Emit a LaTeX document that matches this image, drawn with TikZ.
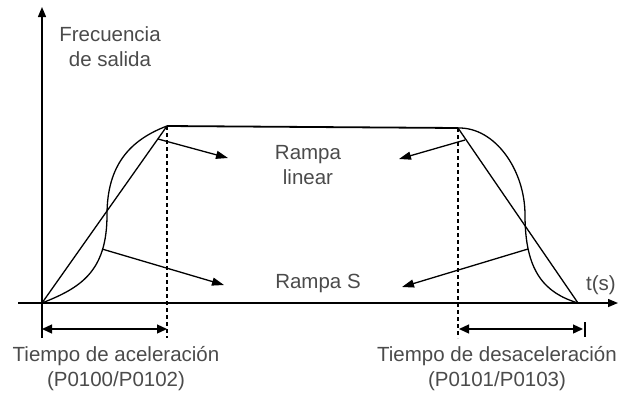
\documentclass[tikz,border=0pt]{standalone}
\usepackage{fontspec}
\setmainfont{Liberation Sans}
\usetikzlibrary{arrows.meta}
\definecolor{txt}{RGB}{75,75,75}
\tikzset{
  lbl/.style={text=txt,font=\fontsize{20.5}{24}\selectfont,inner sep=0pt,align=center},
  curve/.style={line width=1.3pt},
  axis/.style={line width=1.4pt,-{Triangle[length=10pt,width=8pt]}},
  ptr/.style={line width=1.3pt,-{Triangle[length=12pt,width=8pt]}},
  dim/.style={line width=1.3pt,{Triangle[length=10pt,width=9pt]}-{Triangle[length=10pt,width=9pt]}},
  dashline/.style={line width=1.6pt,dash pattern=on 4pt off 3pt}
}
\begin{document}
\begin{tikzpicture}[x=1pt,y=-1pt]
\useasboundingbox (0,0) rectangle (624,392);
% axes
\coordinate (o) at (42,303);
\coordinate (ytop) at (42,7);
\coordinate (ybot) at (42,338);
\coordinate (xl) at (18,303);
\coordinate (xr) at (618,303);
\draw[axis] (ybot) -- (ytop);
\draw[axis] (xl) -- (xr);
% key points
\coordinate (a) at (167,126);
\coordinate (b) at (458,128);
\coordinate (e) at (578,303);
% linear ramp
\draw[curve] (o) -- (a);
\draw[line width=1.8pt] (a) -- (b);
\draw[curve] (b) -- (e);
% S ramps
\draw[curve] (o) .. controls (80,288) and (107,272) .. (107,215)
                .. controls (107,165) and (130,140) .. (a);
\draw[curve] (b) .. controls (495,127) and (525,170) .. (525,215)
                .. controls (525,272) and (545,293) .. (e);
% dashed
\coordinate (da) at (167,338);
\coordinate (db) at (458,338);
\draw[dashline] (a) -- (da);
\draw[dashline] (b) -- (db);
% labels
\node[lbl] (freq) at (110,47) {Frecuencia\\[1pt]de salida};
\node[lbl] (lin) at (308,165) {Rampa\\[1pt]linear};
\node[lbl] (rs) at (318,283) {Rampa S};
\node[lbl] (ts) at (601,285) {t(s)};
\node[lbl] (acc) at (116,369) {Tiempo de aceleración\\[1pt](P0100/P0102)};
\node[lbl] (dec) at (497,369) {Tiempo de desaceleración\\[1pt](P0101/P0103)};
% pointers
\coordinate (p1) at (158,139);
\coordinate (p2) at (102,249);
\coordinate (p3) at (465,140);
\coordinate (p4) at (528,249);
\draw[ptr] (p1) -- (228,158);
\draw[ptr] (p2) -- (224,285);
\draw[ptr] (p3) -- (399,159);
\draw[ptr] (p4) -- (402,287);
% dimension arrows
\coordinate (l1) at (42,329);
\coordinate (l2) at (167,329);
\coordinate (r1) at (459,329);
\coordinate (r2) at (583,329);
\draw[dim] (l1) -- (l2);
\draw[dim] (r1) -- (r2);
\coordinate (t1) at (585,322);
\coordinate (t2) at (585,337);
\draw[line width=1.3pt] (t1) -- (t2);
\end{tikzpicture}
\end{document}
